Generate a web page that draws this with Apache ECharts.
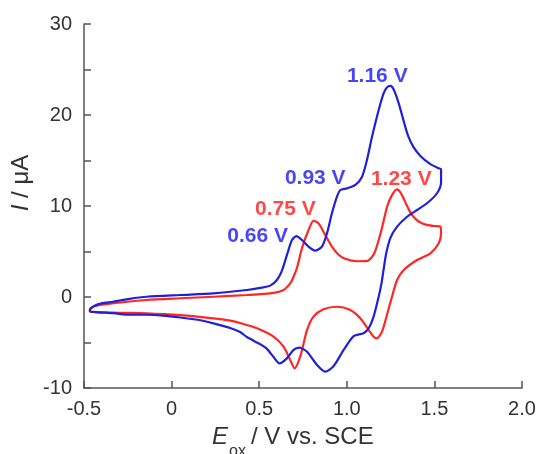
<!DOCTYPE html>
<html>
<head>
<meta charset="utf-8">
<script src="https://cdn.jsdelivr.net/npm/echarts@6/dist/echarts.min.js"></script>
<style>
html,body{margin:0;padding:0;background:#fff;}
#c{width:539px;height:454px;}
</style>
</head>
<body>
<div id="c"></div>
<script>
// ---- data (E in V vs. SCE, I in µA) ----
var blueE = [-0.465,-0.44,-0.40,-0.333,-0.24,-0.142,0.049,0.239,0.43,0.506,0.563,0.601,0.63,0.667,0.687,0.712,0.744,0.782,0.818,0.858,0.887,0.915,0.944,0.963,1.001,1.049,1.087,1.115,1.144,1.182,1.21,1.23,1.249,1.267,1.296,1.325,1.35,1.38,1.42,1.477,1.525,1.538,
             1.538,1.515,1.458,1.401,1.344,1.287,1.249,1.225,1.21,1.198,1.182,1.153,1.125,1.096,1.039,0.982,0.925,0.877,0.83,0.773,0.73,0.696,0.658,0.616,0.582,0.544,0.506,0.43,0.391,0.334,0.239,0.15,0.049,-0.05,-0.142,-0.238,-0.333,-0.42,-0.465,-0.465];
var blueI = [-1.3,-0.95,-0.7,-0.52,-0.2,0.03,0.22,0.40,0.77,1.0,1.25,1.87,2.9,5.16,6.26,6.68,6.26,5.53,5.1,5.53,7.0,9.2,11.03,11.76,11.94,12.31,13.22,15.05,17.6,20.55,22.38,23.04,23.19,22.82,21.3,19.3,17.7,16.5,15.5,14.6,14.15,14.03,
             12.6,11.4,10.3,9.56,8.82,7.73,6.5,4.8,3.0,1.5,0.03,-2.16,-3.44,-3.99,-4.29,-5.82,-7.58,-8.21,-7.47,-6.01,-5.57,-5.82,-6.74,-7.29,-6.6,-5.7,-5.2,-4.4,-3.85,-3.4,-2.9,-2.5,-2.25,-2.05,-1.95,-1.95,-1.78,-1.68,-1.6,-1.3];
var redE = [-0.468,-0.465,-0.43,-0.333,-0.142,0.049,0.239,0.43,0.582,0.639,0.677,0.696,0.717,0.746,0.782,0.81,0.839,0.877,0.915,0.95,0.99,1.06,1.118,1.157,1.197,1.23,1.258,1.287,1.306,1.325,1.344,1.363,1.382,1.41,1.45,1.496,1.534,
            1.538,1.525,1.477,1.401,1.325,1.287,1.258,1.23,1.201,1.172,1.153,1.125,1.077,1.02,0.944,0.867,0.81,0.773,0.734,0.702,0.677,0.639,0.582,0.487,0.391,0.334,0.239,0.049,-0.142,-0.333,-0.468];
var redI = [-1.6,-1.3,-0.95,-0.69,-0.33,-0.14,0.03,0.22,0.45,0.77,1.5,2.2,3.3,5.5,7.36,8.38,8.09,6.81,5.53,4.7,4.2,3.93,3.97,4.8,7.3,9.92,11.2,11.83,11.5,10.8,10.0,9.3,8.8,8.3,7.95,7.8,7.73,
            7.0,5.9,4.8,4.07,2.97,1.87,0.03,-1.9,-3.8,-4.54,-4.36,-3.63,-2.34,-1.43,-1.07,-1.35,-2.16,-3.63,-6.56,-7.84,-6.92,-5.46,-4.36,-3.44,-2.85,-2.6,-2.35,-2.0,-1.8,-1.72,-1.6];
// peak annotations
var blueLabels = ['0.66 V','0.93 V','1.16 V'];
var blueLabelE = [0.491,0.82,1.174];
var blueLabelI = [6.70,13.08,24.29];
var redLabels = ['0.75 V','1.23 V'];
var redLabelE = [0.649,1.311];
var redLabelI = [9.67,12.97];
// tick labels
var xTickValues = [-0.5,0,0.5,1.0,1.5,2.0];
var xTickLabels = ['-0.5','0','0.5','1.0','1.5','2.0'];
var yTickValues = [-10,0,10,20,30];
var yTickLabels = ['-10','0','10','20','30'];

function zip(a,b){var r=[];for(var i=0;i<a.length;i++)r.push([a[i],b[i]]);return r;}
function labelData(n,e,i){var r=[];for(var k=0;k<n.length;k++)r.push({name:n[k],value:[e[k],i[k]]});return r;}

var FONT = '"Liberation Sans", Arial, sans-serif';
var BLUE = '#2020d8', RED = '#ff2626';
var BLUE_T = '#1818f2', RED_T = '#ff1a1a';
var axisCol = '#555555';
var txtCol = '#333333';

var chart = echarts.init(document.getElementById('c'), null, {renderer:'canvas'});
chart.setOption({
  animation:false,
  backgroundColor:'#ffffff',
  grid:{left:84,right:17,top:24,bottom:66,containLabel:false},
  xAxis:{type:'value',min:-0.5,max:2.0,interval:0.5,
    axisLine:{show:true,onZero:false,lineStyle:{color:axisCol,width:1.5}},
    axisTick:{show:true,inside:true,length:7,lineStyle:{color:axisCol,width:1.5}},
    splitLine:{show:false},
    axisLabel:{margin:11,color:txtCol,fontSize:20,fontFamily:FONT,
      formatter:function(v){for(var k=0;k<xTickValues.length;k++){if(Math.abs(v-xTickValues[k])<1e-6)return xTickLabels[k];}return '';}}
  },
  yAxis:{type:'value',min:-10,max:30,interval:5,
    axisLine:{show:true,onZero:false,lineStyle:{color:axisCol,width:1.5}},
    axisTick:{show:true,inside:true,length:7,lineStyle:{color:axisCol,width:1.5}},
    splitLine:{show:false},
    axisLabel:{margin:12,color:txtCol,fontSize:20,fontFamily:FONT,
      formatter:function(v){for(var k=0;k<yTickValues.length;k++){if(Math.abs(v-yTickValues[k])<1e-6)return yTickLabels[k];}return '';}}
  },
  series:[
    {type:'line',data:zip(redE,redI),symbol:'none',smooth:0.25,lineStyle:{color:RED,width:2.2},z:2},
    {type:'line',data:zip(blueE,blueI),symbol:'none',smooth:0.25,lineStyle:{color:BLUE,width:2.2},z:3},
    {type:'scatter',data:labelData(blueLabels,blueLabelE,blueLabelI),symbolSize:0,silent:true,z:5,
      label:{show:true,position:'inside',formatter:'{b}',color:BLUE_T,fontSize:21,fontWeight:'bold',fontFamily:FONT}},
    {type:'scatter',data:labelData(redLabels,redLabelE,redLabelI),symbolSize:0,silent:true,z:5,
      label:{show:true,position:'inside',formatter:'{b}',color:RED_T,fontSize:21,fontWeight:'bold',fontFamily:FONT}}
  ],
  graphic:[
    {type:'text',x:21,y:183,rotation:Math.PI/2,
      style:{text:'{i|I} / μA',x:0,y:0,align:'center',verticalAlign:'middle',fill:txtCol,font:'24px '+FONT,
        rich:{i:{fontStyle:'italic',fontSize:24,fontFamily:FONT,fill:txtCol}}}},
    {type:'text',x:212,y:437,style:{text:'E',align:'left',verticalAlign:'middle',fill:txtCol,font:'italic 24px '+FONT}},
    {type:'text',x:229,y:452,style:{text:'ox',align:'left',verticalAlign:'middle',fill:txtCol,font:'16px '+FONT}},
    {type:'text',x:251,y:437,style:{text:'/ V vs. SCE',align:'left',verticalAlign:'middle',fill:txtCol,font:'24px '+FONT}}
  ]
});
</script>
</body>
</html>
